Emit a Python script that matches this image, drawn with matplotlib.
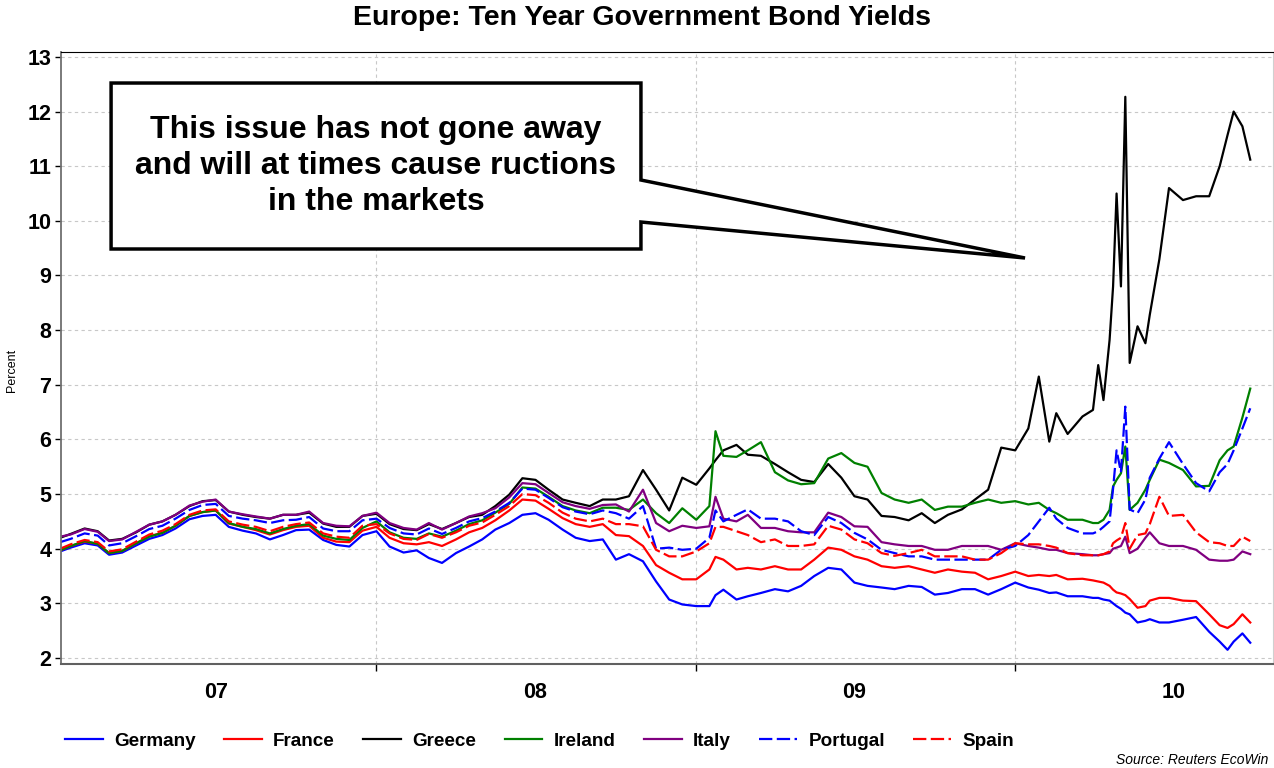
import matplotlib
matplotlib.use("Agg")
import matplotlib.pyplot as plt
import matplotlib.dates as mdates
from matplotlib.patches import Polygon
import pandas as pd

plt.rcParams['font.family'] = ['Liberation Sans', 'DejaVu Sans']

# observation dates (semi-monthly, finer in 2010)
dates = pd.to_datetime(
    ["2007-01-04", "2007-01-16", "2007-02-01", "2007-02-16", "2007-03-01", "2007-03-16",
     "2007-04-01", "2007-04-16", "2007-05-01", "2007-05-16", "2007-06-01", "2007-06-16",
     "2007-07-01", "2007-07-16", "2007-08-01", "2007-08-16", "2007-09-01", "2007-09-16",
     "2007-10-01", "2007-10-16", "2007-11-01", "2007-11-16", "2007-12-01", "2007-12-16",
     "2008-01-01", "2008-01-16", "2008-02-01", "2008-02-16", "2008-03-01", "2008-03-16",
     "2008-04-01", "2008-04-16", "2008-05-01", "2008-05-16", "2008-06-01", "2008-06-16",
     "2008-07-01", "2008-07-16", "2008-08-01", "2008-08-16", "2008-09-01", "2008-09-16",
     "2008-10-01", "2008-10-16", "2008-11-01", "2008-11-16", "2008-12-01", "2008-12-16",
     "2009-01-01", "2009-01-16", "2009-01-23", "2009-02-01", "2009-02-16", "2009-03-01",
     "2009-03-16", "2009-04-01", "2009-04-16", "2009-05-01", "2009-05-16", "2009-06-01",
     "2009-06-16", "2009-07-01", "2009-07-16", "2009-08-01", "2009-08-16", "2009-09-01",
     "2009-09-16", "2009-10-01", "2009-10-16", "2009-11-01", "2009-11-16", "2009-12-01",
     "2009-12-16",
     "2010-01-01", "2010-01-16", "2010-01-28", "2010-02-09", "2010-02-17", "2010-03-02",
     "2010-03-19", "2010-03-31", "2010-04-06", "2010-04-12", "2010-04-19", "2010-04-23",
     "2010-04-27", "2010-05-02", "2010-05-07", "2010-05-12", "2010-05-21", "2010-05-30",
     "2010-06-04", "2010-06-15", "2010-06-26", "2010-07-12", "2010-07-27", "2010-08-11",
     "2010-08-23", "2010-09-01", "2010-09-08", "2010-09-18", "2010-09-27"])

germany = [3.95, 4.02, 4.10, 4.06, 3.89, 3.93, 4.06, 4.18, 4.25, 4.37, 4.54, 4.60,
           4.62, 4.40, 4.33, 4.28, 4.17, 4.25, 4.34, 4.35, 4.16, 4.07, 4.04, 4.25,
           4.32, 4.04, 3.93, 3.97, 3.83, 3.74, 3.92, 4.04, 4.17, 4.35, 4.47, 4.62,
           4.65, 4.53, 4.35, 4.20, 4.14, 4.17, 3.80, 3.90, 3.77, 3.40, 3.07, 2.98,
           2.95, 2.95, 3.15, 3.25, 3.07, 3.13, 3.19, 3.26, 3.22, 3.32, 3.50, 3.65,
           3.62, 3.38, 3.32, 3.29, 3.26, 3.32, 3.30, 3.16, 3.19, 3.26, 3.26, 3.16, 3.26,
           3.38, 3.29, 3.25, 3.19, 3.20, 3.13, 3.13, 3.10, 3.10, 3.07, 3.05, 3.00,
           2.95, 2.90, 2.83, 2.80, 2.65, 2.68, 2.71, 2.65, 2.65, 2.70, 2.75, 2.48,
           2.30, 2.15, 2.30, 2.45, 2.28]
france = [3.97, 4.05, 4.13, 4.09, 3.92, 3.96, 4.10, 4.23, 4.29, 4.42, 4.60, 4.67,
          4.70, 4.46, 4.40, 4.34, 4.26, 4.34, 4.40, 4.42, 4.20, 4.13, 4.12, 4.33,
          4.40, 4.20, 4.10, 4.08, 4.12, 4.05, 4.17, 4.30, 4.38, 4.52, 4.70, 4.90,
          4.88, 4.73, 4.56, 4.45, 4.40, 4.45, 4.25, 4.23, 4.05, 3.70, 3.56, 3.44,
          3.44, 3.62, 3.85, 3.80, 3.62, 3.65, 3.62, 3.68, 3.62, 3.62, 3.80, 4.02,
          3.98, 3.86, 3.80, 3.68, 3.65, 3.68, 3.62, 3.56, 3.62, 3.58, 3.56, 3.44, 3.50,
          3.58, 3.50, 3.52, 3.50, 3.52, 3.44, 3.45, 3.42, 3.40, 3.38, 3.32, 3.25,
          3.20, 3.18, 3.15, 3.08, 2.92, 2.95, 3.05, 3.10, 3.10, 3.05, 3.04, 2.80,
          2.60, 2.55, 2.62, 2.80, 2.65]
greece = [4.20, 4.27, 4.37, 4.32, 4.15, 4.18, 4.30, 4.44, 4.50, 4.62, 4.78, 4.87,
          4.89, 4.68, 4.62, 4.58, 4.55, 4.62, 4.62, 4.66, 4.46, 4.40, 4.40, 4.60,
          4.64, 4.45, 4.36, 4.34, 4.45, 4.36, 4.47, 4.58, 4.62, 4.78, 4.99, 5.29,
          5.26, 5.08, 4.90, 4.84, 4.78, 4.90, 4.90, 4.96, 5.44, 5.08, 4.70, 5.30,
          5.17, 5.47, 5.62, 5.80, 5.90, 5.72, 5.70, 5.55, 5.40, 5.26, 5.22, 5.55,
          5.30, 4.96, 4.90, 4.60, 4.58, 4.52, 4.65, 4.47, 4.62, 4.72, 4.90, 5.08, 5.85,
          5.80, 6.20, 7.15, 5.96, 6.48, 6.10, 6.42, 6.54, 7.36, 6.72, 7.82, 8.80,
          10.50, 8.80, 12.27, 7.40, 8.07, 7.76, 8.28, 9.30, 10.60, 10.38, 10.45, 10.45,
          11.00, 11.57, 12.00, 11.73, 11.12]
ireland = [3.97, 4.05, 4.14, 4.09, 3.92, 3.96, 4.10, 4.22, 4.29, 4.42, 4.60, 4.67,
           4.70, 4.47, 4.40, 4.36, 4.28, 4.36, 4.42, 4.45, 4.24, 4.18, 4.16, 4.38,
           4.50, 4.30, 4.20, 4.18, 4.28, 4.22, 4.33, 4.45, 4.52, 4.66, 4.82, 5.12,
           5.10, 4.95, 4.78, 4.70, 4.65, 4.75, 4.75, 4.71, 4.90, 4.65, 4.47, 4.74,
           4.53, 4.78, 6.15, 5.70, 5.68, 5.80, 5.95, 5.40, 5.25, 5.18, 5.20, 5.65,
           5.75, 5.57, 5.50, 5.02, 4.90, 4.84, 4.90, 4.71, 4.77, 4.77, 4.84, 4.90, 4.84,
           4.87, 4.81, 4.84, 4.71, 4.65, 4.53, 4.53, 4.47, 4.47, 4.53, 4.71, 5.14,
           5.26, 5.38, 5.87, 4.71, 4.84, 5.08, 5.26, 5.63, 5.57, 5.44, 5.14, 5.15,
           5.62, 5.80, 5.87, 6.40, 6.93]
italy = [4.22, 4.26, 4.36, 4.31, 4.14, 4.17, 4.31, 4.44, 4.50, 4.62, 4.79, 4.86,
         4.90, 4.68, 4.63, 4.59, 4.55, 4.62, 4.62, 4.68, 4.47, 4.42, 4.41, 4.60,
         4.66, 4.47, 4.38, 4.35, 4.47, 4.35, 4.47, 4.59, 4.65, 4.74, 4.94, 5.20,
         5.18, 5.02, 4.85, 4.78, 4.73, 4.80, 4.81, 4.68, 5.08, 4.47, 4.32, 4.42,
         4.38, 4.41, 4.95, 4.55, 4.50, 4.62, 4.38, 4.38, 4.32, 4.30, 4.30, 4.66,
         4.58, 4.41, 4.40, 4.12, 4.08, 4.05, 4.05, 3.98, 3.98, 4.05, 4.05, 4.05, 3.98,
         4.10, 4.05, 4.02, 3.98, 3.98, 3.92, 3.90, 3.88, 3.88, 3.90, 3.92, 4.00,
         4.02, 4.05, 4.22, 3.92, 4.00, 4.20, 4.30, 4.10, 4.05, 4.05, 3.98, 3.80,
         3.78, 3.78, 3.80, 3.95, 3.90]
portugal = [4.12, 4.18, 4.28, 4.24, 4.06, 4.10, 4.23, 4.36, 4.42, 4.55, 4.71, 4.80,
            4.82, 4.60, 4.55, 4.52, 4.47, 4.52, 4.53, 4.58, 4.37, 4.32, 4.32, 4.52,
            4.55, 4.38, 4.28, 4.26, 4.37, 4.27, 4.38, 4.50, 4.56, 4.68, 4.84, 5.10,
            5.08, 4.93, 4.76, 4.68, 4.63, 4.70, 4.65, 4.55, 4.78, 4.00, 4.02, 3.98,
            4.00, 4.20, 4.70, 4.50, 4.62, 4.72, 4.55, 4.55, 4.50, 4.32, 4.25, 4.58,
            4.47, 4.29, 4.17, 3.98, 3.92, 3.86, 3.86, 3.80, 3.80, 3.80, 3.80, 3.80, 3.98,
            4.05, 4.25, 4.50, 4.75, 4.55, 4.38, 4.28, 4.28, 4.32, 4.40, 4.50, 5.10,
            5.80, 5.40, 6.60, 4.72, 4.65, 4.90, 5.30, 5.65, 5.95, 5.55, 5.20, 5.05,
            5.40, 5.55, 5.80, 6.20, 6.57]
spain = [4.00, 4.08, 4.16, 4.12, 3.95, 3.99, 4.13, 4.26, 4.33, 4.45, 4.62, 4.70,
         4.72, 4.50, 4.44, 4.40, 4.32, 4.40, 4.45, 4.48, 4.28, 4.22, 4.20, 4.42,
         4.45, 4.28, 4.18, 4.16, 4.27, 4.20, 4.30, 4.42, 4.48, 4.62, 4.78, 5.00,
         4.98, 4.84, 4.66, 4.55, 4.50, 4.55, 4.45, 4.45, 4.41, 3.98, 3.86, 3.86,
         3.95, 4.10, 4.40, 4.40, 4.32, 4.25, 4.12, 4.17, 4.05, 4.05, 4.08, 4.42,
         4.35, 4.17, 4.10, 3.92, 3.87, 3.92, 3.98, 3.86, 3.86, 3.86, 3.80, 3.80, 3.92,
         4.10, 4.08, 4.08, 4.05, 4.02, 3.92, 3.88, 3.88, 3.88, 3.90, 3.95, 4.10,
         4.15, 4.20, 4.47, 4.00, 4.25, 4.28, 4.45, 4.95, 4.60, 4.62, 4.30, 4.12,
         4.10, 4.05, 4.05, 4.22, 4.14]

names = ["Germany", "France", "Greece", "Ireland", "Italy", "Portugal", "Spain"]
series = [germany, france, greece, ireland, italy, portugal, spain]
colors = ["#0000ff", "#ff0000", "#000000", "#008000", "#800080", "#0000ff", "#ff0000"]
styles = ["-", "-", "-", "-", "-", (0, (6, 2)), (0, (6, 2))]

fig = plt.figure(figsize=(12.74, 7.68), dpi=100)
ax = fig.add_axes([0.0479, 0.1354, 0.9513, 0.7969])

for name, vals, c, ls in zip(names, series, colors, styles):
    ax.plot(dates, vals, color=c, linestyle=ls, linewidth=1.6, label=name)

ax.set_xlim(pd.Timestamp("2007-01-05"), pd.Timestamp("2010-10-23"))
ax.set_ylim(1.89, 13.09)
ax.set_yticks(range(2, 14))
ax.tick_params(axis='y', labelsize=15.5, length=4, width=1, pad=3)
for lab in ax.get_yticklabels():
    lab.set_fontweight('bold')

ax.xaxis.set_major_locator(mdates.YearLocator())
ax.xaxis.set_major_formatter(plt.NullFormatter())
ax.xaxis.set_minor_locator(mdates.MonthLocator(bymonth=7, bymonthday=1))
ax.xaxis.set_minor_formatter(mdates.DateFormatter('%y'))
ax.tick_params(axis='x', which='major', length=5, width=1)
ax.tick_params(axis='x', which='minor', length=0, labelsize=15.5, pad=13)
for lab in ax.xaxis.get_minorticklabels():
    lab.set_fontweight('bold')

ax.grid(True, which='major', color='#c8c8c8', linestyle=(0, (3, 3)), linewidth=0.8)
ax.spines['top'].set_color('black')
ax.spines['left'].set_color('#707070')
ax.spines['left'].set_linewidth(1.3)
ax.spines['bottom'].set_color('#606060')
ax.spines['bottom'].set_linewidth(1.5)
ax.spines['right'].set_color('#d0d0d0')

# callout box
callout = Polygon([(0.0413, 0.9493), (0.4785, 0.9493), (0.4785, 0.7908), (0.7954, 0.6634),
                   (0.4785, 0.7222), (0.4785, 0.6781), (0.0413, 0.6781)],
                  closed=True, transform=ax.transAxes, facecolor='white',
                  edgecolor='black', linewidth=2.5, zorder=5)
ax.add_patch(callout)
ax.text(0.2599, 0.8137, "This issue has not gone away\nand will at times cause ructions\nin the markets",
        transform=ax.transAxes, ha='center', va='center', fontsize=23,
        fontweight='bold', linespacing=1.27, zorder=6)

fig.text(642 / 1274, 1 - 18 / 768, "Europe: Ten Year Government Bond Yields",
         ha='center', va='center', fontsize=20.5, fontweight='bold')
fig.text(12 / 1274, 1 - 370 / 768, "Percent", rotation=90, ha='center', va='center', fontsize=9)
fig.text(1268 / 1274, 1 - 760 / 768, "Source: Reuters EcoWin", ha='right', va='center',
         fontsize=10, style='italic')

leg = fig.legend(loc='center left', bbox_to_anchor=(65 / 1274, 1 - 741 / 768), ncol=7,
                 frameon=False, handlelength=2.0, handletextpad=0.6, columnspacing=1.5,
                 borderpad=0, borderaxespad=0, prop={'weight': 'bold', 'size': 13.6})

fig.savefig("out.png", dpi=100)
